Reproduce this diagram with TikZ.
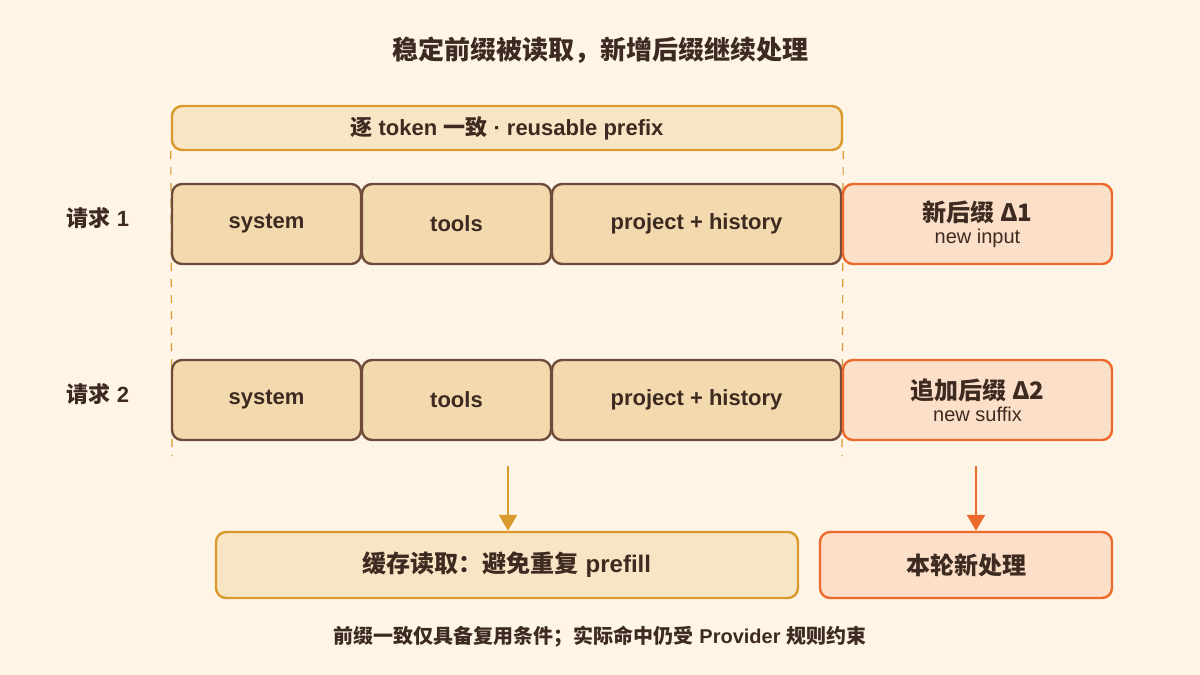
\documentclass[tikz,border=0pt]{standalone}
\usepackage{fontspec}
\setmainfont{Liberation Sans}
\newfontfamily\cjk{Noto Sans CJK SC}
\usetikzlibrary{arrows.meta}
\definecolor{bgc}{HTML}{FEF5E7}
\definecolor{inkc}{HTML}{3D2A20}
\definecolor{goldc}{HTML}{D99A2B}
\definecolor{goldfill}{HTML}{F8E5C5}
\definecolor{brownc}{HTML}{6E4B3A}
\definecolor{blockfill}{HTML}{F2D9AE}
\definecolor{orangec}{HTML}{EE6A2C}
\definecolor{orangefill}{HTML}{FCDFC8}
\newcommand{\cj}[1]{{\cjk\bfseries #1}}
\tikzset{
    block/.style={draw=brownc, fill=blockfill, line width=1.2pt, rounded corners=5pt,
        text=inkc, font=\fontsize{11}{13}\selectfont\bfseries},
    delta/.style={draw=orangec, fill=orangefill, line width=1.2pt, rounded corners=5pt,
        text=inkc, align=center},
    gold/.style={draw=goldc, fill=goldfill, line width=1.2pt, rounded corners=5pt,
        text=inkc},
    guide/.style={goldc, line width=0.6pt, dash pattern=on 4pt off 4pt}
}
% one box from its pixel corners
\newcommand{\pbox}[6]{
    \node[#1, minimum width=(#4-#2)*0.5pt, minimum height=(#5-#3)*0.5pt, inner sep=0pt]
        (#6) at ({(#2+#4)/2}, {(#3+#5)/2}) {};
}
\begin{document}
\begin{tikzpicture}[x=0.5pt, y=-0.5pt]

    % canvas
    \fill[bgc] (0,0) rectangle (1200,675);
    \useasboundingbox (0,0) rectangle (1200,675);

    % title
    \node[text=inkc, font=\fontsize{13}{15}\selectfont] (title) at (600,50) {\cj{稳定前缀被读取，新增后缀继续处理}};

    % reusable prefix band and its guides
    \pbox{gold}{172}{106}{842}{150}{band}
    \node[text=inkc, font=\fontsize{11}{13}\selectfont\bfseries] at (band) {\cj{逐} token \cj{一致} · reusable prefix};
    \coordinate (gl) at (172,456);
    \coordinate (gr) at (842,456);
    \draw[guide] (band.south west) -- (gl);
    \draw[guide] (band.south east) -- (gr);

    % two requests
    \foreach \r/\y/\da/\db in {1/184/{新后缀 \textbf{Δ1}}/new input, 2/360/{追加后缀 \textbf{Δ2}}/new suffix}{
        \node[text=inkc, font=\fontsize{11}{13}\selectfont] (req\r) at (98,\y+34) {\cj{请求} \textbf{\r}};
        \pbox{block}{172}{\y}{361}{\y+80}{sys\r}
        \node[block, draw=none, fill=none] at (sys\r) {system};
        \pbox{block}{362}{\y}{551}{\y+80}{tool\r}
        \node[block, draw=none, fill=none] at (tool\r) {tools};
        \pbox{block}{552}{\y}{841}{\y+80}{proj\r}
        \node[block, draw=none, fill=none] at (proj\r) {project + history};
        \pbox{delta}{843}{\y}{1112}{\y+80}{new\r}
        \node[text=inkc, align=center] at (new\r) {{\fontsize{12}{16}\selectfont\cjk\bfseries \da}\\[-1pt]{\fontsize{10}{12}\selectfont \db}};
    }

    % outcomes
    \pbox{gold}{216}{532}{798}{598}{cache}
    \node[text=inkc, font=\fontsize{12}{14}\selectfont] at (cache) {\cj{缓存读取：避免重复} \textbf{prefill}};
    \pbox{delta}{820}{532}{1112}{598}{fresh}
    \node[text=inkc, font=\fontsize{12}{14}\selectfont] at (fresh) {\cj{本轮新处理}};

    \coordinate (ca) at (508,466);
    \coordinate (fa) at (976,466);
    \draw[goldc, line width=1.2pt, -{Triangle[length=8pt,width=9pt]}] (ca) -- (cache.north -| ca);
    \draw[orangec, line width=1.2pt, -{Triangle[length=8pt,width=9pt]}] (fa) -- (fresh.north -| fa);

    % footnote
    \node[text=inkc, font=\fontsize{10}{12}\selectfont] (note) at (600,637) {\cj{前缀一致仅具备复用条件；实际命中仍受} \textbf{Provider} \cj{规则约束}};

\end{tikzpicture}
\end{document}
